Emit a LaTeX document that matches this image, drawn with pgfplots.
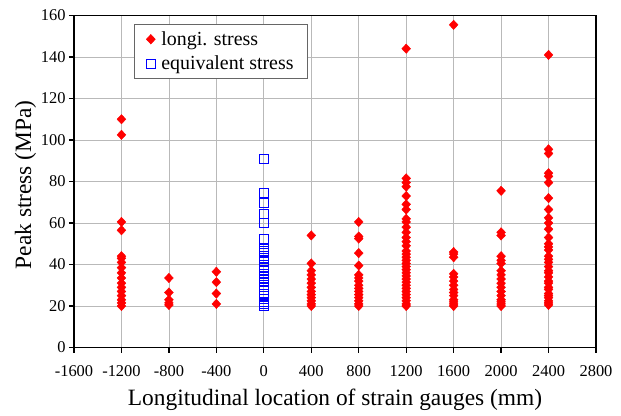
\documentclass[border=0pt]{standalone}
\usepackage{pgfplots}
\pgfplotsset{compat=1.18}
\usepackage{fontspec}
\setmainfont{Liberation Serif}

\pgfplotstableread{
x y
-1200 110
-1200 102.5
-1200 60.5
-1200 56.5
-1200 44
-1200 43
-1200 41
-1200 38.5
-1200 36
-1200 33.5
-1200 31
-1200 29
-1200 27
-1200 25
-1200 23
-1200 21.5
-1200 20
-800 33.5
-800 26.5
-800 23
-800 21.5
-800 20.5
-400 36.5
-400 31.5
-400 26
-400 21
400 54
400 40.5
400 37
400 35
400 33
400 31
400 29
400 27
400 25.5
400 24
400 22.5
400 21
400 20
800 60.5
800 53.5
800 52.5
800 45.5
800 39.5
800 35
800 33.5
800 32
800 30
800 28.5
800 27
800 25.5
800 24
800 22.5
800 21
800 20
1200 144
1200 81.5
1200 79.5
1200 77.5
1200 73
1200 69
1200 66.5
1200 62
1200 60.5
1200 58
1200 55.5
1200 53
1200 51
1200 49
1200 46.5
1200 45
1200 43.5
1200 42
1200 40.5
1200 39
1200 37.5
1200 36
1200 34.5
1200 33
1200 31.5
1200 30
1200 28.5
1200 27
1200 25.5
1200 24
1200 22.5
1200 21
1200 20
1600 155.5
1600 46
1600 45
1600 43.5
1600 35.5
1600 34
1600 32
1600 30
1600 28
1600 26.5
1600 25
1600 23
1600 22
1600 21
1600 20
2000 75.5
2000 55.5
2000 54
2000 44
2000 42
2000 40.5
2000 37
2000 35
2000 33
2000 31
2000 29
2000 27
2000 25
2000 23
2000 22
2000 21
2000 20
2400 141
2400 95.5
2400 93.5
2400 84
2400 82.5
2400 79.5
2400 72
2400 66.5
2400 62.5
2400 60
2400 57
2400 53
2400 50
2400 48.5
2400 47
2400 44
2400 42.5
2400 41
2400 39
2400 37
2400 36
2400 34
2400 32
2400 31
2400 29
2400 28
2400 26
2400 25
2400 24
2400 22.5
2400 21.5
2400 20.5
}\longi

\pgfplotstableread{
x y
0 91
0 74.5
0 69.5
0 64.5
0 60
0 52.5
0 47.5
0 46.5
0 45.5
0 44
0 43
0 41.5
0 40
0 38.5
0 37
0 35.5
0 34.5
0 33
0 31.5
0 30
0 29
0 27.5
0 26
0 25
0 23.5
0 22
0 21
0 20
}\equiv

\begin{document}
\begin{tikzpicture}
\begin{axis}[
  at={(74bp,68.5bp)}, anchor=south west,
  width=522bp, height=332bp, scale only axis,
  xmin=-1600, xmax=2800, ymin=0, ymax=160,
  xtick distance=400, ytick distance=20,
  grid=major,
  major grid style={gray!55, line width=0.8bp},
  axis line style={black, line width=1.5bp},
  tick pos=left, tick align=outside,
  major tick length=5bp,
  tick style={black, line width=1.2bp},
  /pgf/number format/assume math mode=true,
  /pgf/number format/1000 sep={},
  xticklabel={\pgfmathprintnumber{\tick}},
  yticklabel={\pgfmathprintnumber{\tick}},
  ticklabel style={font=\rmfamily\fontsize{16.5}{18}\selectfont},
  xticklabel style={yshift=-10bp},
  xlabel={Longitudinal location of strain gauges (mm)},
  ylabel={Peak stress (MPa)},
  label style={font=\fontsize{23.5}{26}\selectfont},
  xlabel style={at={(axis description cs:0.5,-0.158)}, anchor=center},
  ylabel style={at={(axis description cs:-0.093,0.49)}, anchor=center},
  legend style={at={(axis description cs:0.115,0.9735)}, anchor=north west,
    draw=gray!80!black, line width=0.6bp, font=\rmfamily\fontsize{20}{24}\selectfont,
    inner xsep=12bp, inner ysep=5bp, row sep=5bp,
    /tikz/every odd column/.append style={column sep=4bp}},
  legend cell align=left,
  clip=false,
]
\addplot[only marks, mark=diamond*, mark size=4.7bp, color=red, mark options={fill=red, xscale=1.25}] table[x=x,y=y] {\longi};
\addlegendentry{longi. stress}
\addplot[only marks, mark=square, mark size=4.5bp, color=blue, mark options={line width=0.9bp}] table[x=x,y=y] {\equiv};
\addlegendentry{equivalent stress}
\end{axis}
\pgfresetboundingbox
\path (0,0) rectangle (621bp,416bp);
\end{tikzpicture}
\end{document}
